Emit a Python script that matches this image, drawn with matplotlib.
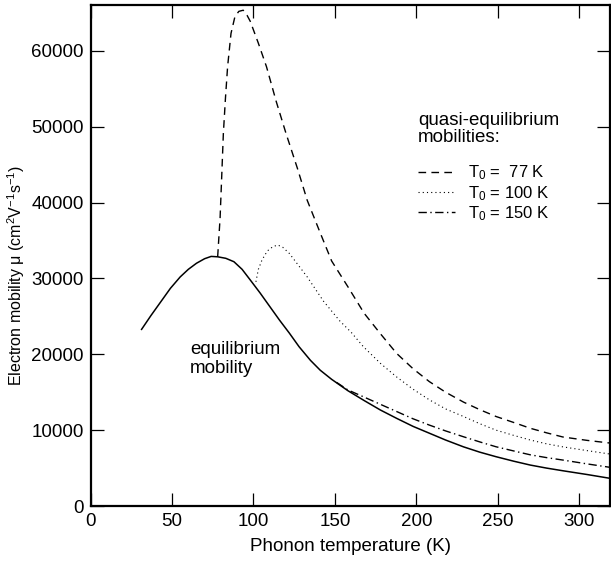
import matplotlib
matplotlib.use("Agg")
import matplotlib.pyplot as plt

plt.rcParams['font.family'] = ['Liberation Sans', 'DejaVu Sans']
plt.rcParams['mathtext.default'] = 'regular'

# equilibrium mobility (solid)
eq_T = [31, 37, 43, 49, 55, 60, 65, 70, 74, 78, 83, 88, 93, 98, 104, 110, 116, 122, 128, 135,
        141, 148, 158, 168, 178, 188, 198, 208, 218, 229, 239, 249, 260, 270, 280, 290, 305, 319]
eq_mu = [23200, 25100, 26900, 28700, 30200, 31200, 32000, 32600, 32900, 32850, 32650, 32200,
         31200, 29800, 28100, 26300, 24500, 22800, 21000, 19200, 17900, 16700, 15200, 13900,
         12650, 11550, 10500, 9600, 8700, 7800, 7100, 6500, 5900, 5400, 5000, 4650, 4150, 3650]

# quasi-equilibrium, T0 = 77 K (dashed)
q77_T = [78, 79.5, 80.5, 81.5, 82.8, 84.1, 86.2, 88.6, 91, 93.7, 96, 98, 103, 108, 114, 120,
         127, 133, 141, 148, 158, 168, 178, 188, 198, 208, 218, 229, 239, 249, 260, 270, 280, 290, 305, 319]
q77_mu = [32850, 38000, 43500, 49100, 53800, 57900, 62300, 64500, 65200, 65350, 64700, 63900,
          61000, 57900, 53300, 49100, 44500, 40300, 36000, 32300, 28900, 25400, 22700, 20100,
          18100, 16400, 15000, 13700, 12700, 11800, 11000, 10250, 9650, 9100, 8650, 8300]

# quasi-equilibrium, T0 = 100 K (dotted)
q100_T = [101.5, 103, 105, 107, 109, 112, 115, 118, 122, 127, 133, 138, 143, 148, 153, 160,
          167.5, 178, 188, 198, 208, 218, 229, 239, 249, 260, 270, 280, 290, 305, 319]
q100_mu = [29550, 31200, 32300, 33100, 33700, 34200, 34400, 34100, 33300, 31900, 30200, 28600,
           27000, 25700, 24400, 22900, 21000, 18800, 17000, 15400, 14000, 12800, 11800, 10850,
           10000, 9300, 8700, 8200, 7800, 7300, 6850]

# quasi-equilibrium, T0 = 150 K (dash-dot)
q150_T = [151, 158, 167.5, 178, 188, 198, 208, 218, 229, 239, 249, 260, 270, 280, 290, 305, 319]
q150_mu = [16300, 15300, 14400, 13400, 12450, 11500, 10670, 9900, 9130, 8450, 7810, 7250,
           6750, 6380, 6060, 5550, 5100]

x_ticks = [0, 50, 100, 150, 200, 250, 300]
y_ticks = [0, 10000, 20000, 30000, 40000, 50000, 60000]

fig = plt.figure(figsize=(6.11, 5.63), dpi=100)
ax = fig.add_axes([0.1484, 0.1012, 0.85, 0.8894])

ax.plot(eq_T, eq_mu, color='black', lw=1.1, solid_capstyle='butt')
ax.plot(q77_T, q77_mu, color='black', lw=1.0, linestyle=(0, (5.5, 3.8)),
        label=r'$T_0$ =  77 K')
ax.plot(q100_T, q100_mu, color='black', lw=0.8, linestyle=(0, (1, 2.8)),
        label=r'$T_0$ = 100 K')
ax.plot(q150_T, q150_mu, color='black', lw=1.0, linestyle=(0, (6, 2.5, 1, 2.5)),
        label=r'$T_0$ = 150 K')

ax.set_xlim(0, 319)
ax.set_ylim(0, 66000)
ax.set_xticks(x_ticks)
ax.set_yticks(y_ticks)
ax.tick_params(direction='in', length=9.5, width=0.9, labelsize=13.5,
               top=True, right=True, pad=5)
for s in ax.spines.values():
    s.set_linewidth(1.6)

ax.set_xlabel('Phonon temperature (K)', fontsize=13.5, labelpad=6)
ax.set_ylabel(r'Electron mobility μ (cm$^2$V$^{-1}$s$^{-1}$)', fontsize=11.5)
ax.yaxis.set_label_coords(-0.123, 0.46)

ax.text(61, 21800, 'equilibrium\nmobility', fontsize=13.5, va='top', ha='left',
        linespacing=1.15)
ax.text(0.630, 0.786, 'quasi-equilibrium\nmobilities:', transform=ax.transAxes,
        fontsize=13.5, va='top', ha='left', linespacing=1.0)

ax.legend(loc='upper left', bbox_to_anchor=(0.630, 0.684), frameon=False, fontsize=12,
          handlelength=2.2, handletextpad=0.8, labelspacing=0.1, borderpad=0,
          borderaxespad=0)

fig.savefig('out.png', dpi=100)
